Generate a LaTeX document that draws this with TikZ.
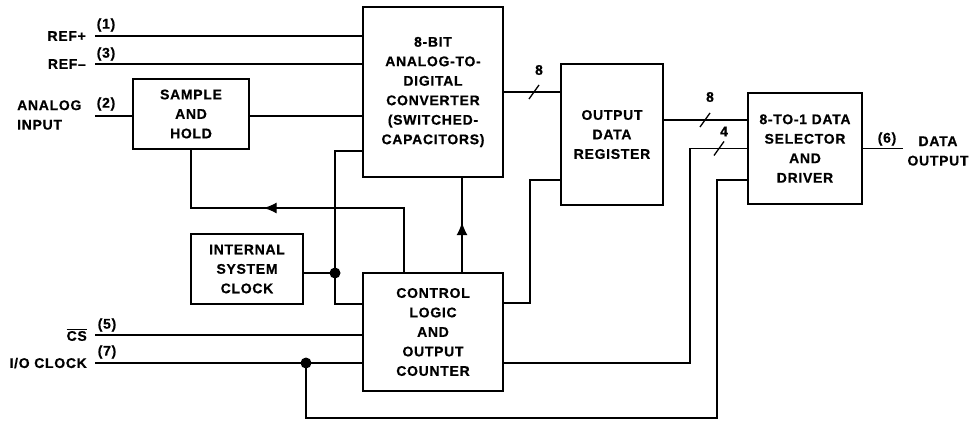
\documentclass[tikz,border=0pt]{standalone}
\usepackage{fontspec}
\setmainfont{Liberation Sans}[LetterSpace=5,BoldFeatures={FakeBold=0.6}]
\usetikzlibrary{arrows.meta,calc,decorations.markings}
\tikzset{
  blk/.style={draw,line width=2pt,inner sep=0pt,align=center,font=\fontsize{14}{19.5}\selectfont\bfseries},
  wire/.style={line width=1.3pt},
  lbl/.style={inner sep=0pt,font=\fontsize{14}{19.5}\selectfont\bfseries},
  jdot/.style={circle,fill,inner sep=0pt,minimum size=11pt},
  midarrow/.style={postaction={decorate,decoration={markings,mark=at position #1 with {\arrow{Latex[length=13pt,width=11pt]}}}}}
}
\begin{document}
\begin{tikzpicture}[x=1pt,y=-1pt]
\path[use as bounding box] (0,0) rectangle (977,421);
\node[blk,minimum width=140,minimum height=170] (adc) at (433,92) {8-BIT\\ANALOG-TO-\\DIGITAL\\CONVERTER\\(SWITCHED-\\CAPACITORS)};
\node[blk,minimum width=116,minimum height=70] (sh) at (191,114) {SAMPLE\\AND\\HOLD};
\node[blk,minimum width=112,minimum height=70] (clk) at (247,269) {INTERNAL\\SYSTEM\\CLOCK};
\node[blk,minimum width=140,minimum height=118] (ctl) at (433,332) {CONTROL\\LOGIC\\AND\\OUTPUT\\COUNTER};
\node[blk,minimum width=102,minimum height=141] (reg) at (612,134.5) {OUTPUT\\DATA\\REGISTER};
\node[blk,minimum width=114,minimum height=111] (sel) at (805,148.5) {8-TO-1 DATA\\SELECTOR\\AND\\DRIVER};
\node[jdot] (jclk) at (335,273) {};
\node[jdot] (jio) at (306,363) {};
\coordinate (refp) at (95,36);
\coordinate (refm) at (95,64);
\coordinate (ain) at (95,116);
\coordinate (cs) at (95,335);
\coordinate (ioc) at (95,363);
\coordinate (dout) at (903,148.5);
\node[lbl,anchor=east] (lrefp) at (86,36) {REF+};
\node[lbl] (prefp) at (106,25) {(1)};
\node[lbl,anchor=east] (lrefm) at (86,64) {REF--};
\node[lbl] (prefm) at (106,54) {(3)};
\node[lbl,anchor=west,align=left] (lain) at (17,115) {ANALOG\\INPUT};
\node[lbl] (pain) at (106,104) {(2)};
\node[lbl,anchor=east] (lcs) at (87,335) {$\overline{\mbox{CS}}$};
\node[lbl] (pcs) at (107,325) {(5)};
\node[lbl,anchor=east] (lioc) at (87,363) {I/O CLOCK};
\node[lbl] (pioc) at (107,352) {(7)};
\node[lbl] (pdout) at (887,139) {(6)};
\node[lbl,align=center] (ldout) at (938,151) {DATA\\OUTPUT};
\draw[wire] (refp) -- (refp -| adc.west);
\draw[wire] (refm) -- (refm -| adc.west);
\draw[wire] (ain) -- (ain -| sh.west);
\draw[wire] (sh.east |- ain) -- (ain -| adc.west);
\draw[wire] ($(adc.south west)+(0,-27)$) -| (jclk.center) |- ($(ctl.north west)+(0,32)$);
\draw[wire] (clk.east |- jclk) -- (jclk.center);
\draw[wire,midarrow=0.61] ($(ctl.north west)+(42,0)$) |- ($(sh.south)+(0,58)$) -- (sh.south);
\draw[wire,midarrow=0.53] ($(ctl.north)+(29,0)$) -- ($(adc.south)+(29,0)$);
\draw[wire] (adc.east) -- (adc.east -| reg.west);
\coordinate (b1) at ($(adc.east)+(30,0)$);
\draw[wire] (b1) ++(-5,7) -- ++(10,-14);
\node[lbl] (n1) at ($(b1)+(5,-22)$) {8};
\coordinate (rs) at ($(reg.north east)+(0,57)$);
\draw[wire] (rs) -- (rs -| sel.west);
\coordinate (b2) at ($(rs)+(41,0)$);
\draw[wire] (b2) ++(-5,7) -- ++(10,-14);
\node[lbl] (n2) at ($(b2)+(5,-23)$) {8};
\draw[wire] ($(ctl.south east)+(0,-29)$) -| ($(sel.west)+(-57,0)$) -- (sel.west);
\coordinate (b3) at ($(sel.west)+(-28,0)$);
\draw[wire] (b3) ++(-5,7) -- ++(10,-14);
\node[lbl] (n3) at ($(b3)+(5,-17)$) {4};
\draw[wire] ($(ctl.north east)+(0,31)$) -| ($(reg.south west)+(-30,-26)$) -- ($(reg.south west)+(0,-26)$);
\draw[wire] (cs) -- (cs -| ctl.west);
\draw[wire] (ioc) -- (ioc -| ctl.west);
\draw[wire] (jio.center) -- ++(0,55) -| ($(sel.south west)+(-30,-25)$) -- ($(sel.south west)+(0,-25)$);
\draw[wire] (sel.east) -- (dout);
\end{tikzpicture}
\end{document}
